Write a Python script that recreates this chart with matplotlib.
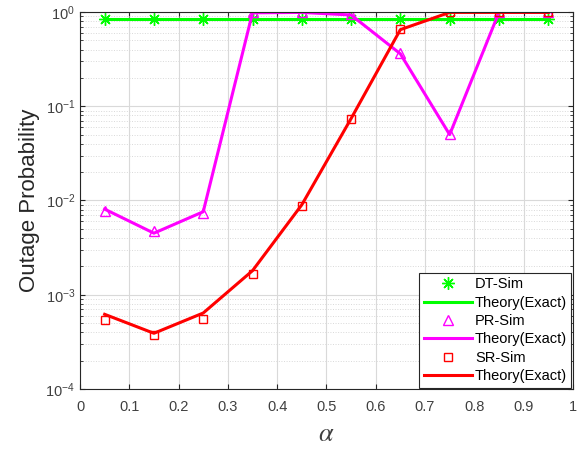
import numpy as np
import matplotlib
matplotlib.use("Agg")
from matplotlib import pyplot as plt
from matplotlib.ticker import LogLocator, NullFormatter

alpha = [0.05, 0.15, 0.25, 0.35, 0.45, 0.55, 0.65, 0.75, 0.85, 0.95]

dt_sim = [0.85, 0.85, 0.85, 0.85, 0.85, 0.85, 0.85, 0.85, 0.85, 0.85]
dt_theory = [0.85, 0.85, 0.85, 0.85, 0.85, 0.85, 0.85, 0.85, 0.85, 0.85]

pr_sim = [0.0078, 0.0047, 0.0074, 1.0, 1.0, 0.95, 0.37, 0.051, 1.0, 1.0]
pr_theory = [0.0081, 0.0045, 0.0076, 0.98, 0.99, 0.93, 0.36, 0.05, 0.99, 0.99]

sr_sim = [0.00054, 0.00037, 0.00055, 0.00166, 0.0088, 0.073, 0.66, 1.0, 1.0, 1.0]
sr_theory = [0.00062, 0.00039, 0.00064, 0.0018, 0.0090, 0.074, 0.65, 0.99, 0.99, 0.99]

xticks = [0, 0.1, 0.2, 0.3, 0.4, 0.5, 0.6, 0.7, 0.8, 0.9, 1]

plt.rcParams['font.family'] = ['Liberation Sans', 'DejaVu Sans']
plt.rcParams['mathtext.fontset'] = 'stix'

fig = plt.figure(figsize=(5.81, 4.53), dpi=100)
ax = fig.add_axes([0.1377, 0.1413, 0.8483, 0.8322])

ax.semilogy(alpha, dt_sim, linestyle='none', marker=(8, 2, 0), color='#00ff00',
            markersize=9, markeredgewidth=1.0, label='DT-Sim')
ax.semilogy(alpha, dt_theory, '-', color='#00ff00', linewidth=2.2,
            label='Theory(Exact)')
ax.semilogy(alpha, pr_sim, linestyle='none', marker='^', color='#ff00ff',
            markerfacecolor='none', markersize=7, label='PR-Sim')
ax.semilogy(alpha, pr_theory, '-', color='#ff00ff', linewidth=2.2,
            label='Theory(Exact)')
ax.semilogy(alpha, sr_sim, linestyle='none', marker='s', color='#ff0000',
            markerfacecolor='none', markersize=6, label='SR-Sim')
ax.semilogy(alpha, sr_theory, '-', color='#ff0000', linewidth=2.2,
            label='Theory(Exact)')

ax.set_xlim(0, 1)
ax.set_ylim(1e-4, 1)
ax.set_xticks(xticks)
ax.set_xticklabels([f"{t:g}" for t in xticks])
ax.yaxis.set_major_locator(LogLocator(base=10, numticks=10))
ax.yaxis.set_minor_locator(LogLocator(base=10, subs=np.arange(2, 10), numticks=10))
ax.yaxis.set_minor_formatter(NullFormatter())

ax.grid(True, which='major', color='#d9d9d9', linewidth=0.8, linestyle='-')
ax.grid(True, which='minor', axis='y', color='#d9d9d9', linewidth=0.7, linestyle=':')
ax.set_axisbelow(True)

ax.tick_params(which='both', direction='in', top=True, right=True,
               labelsize=10.5, colors='#262626', labelcolor='#404040')
ax.tick_params(axis='x', pad=8)
for s in ax.spines.values():
    s.set_color('#262626')
    s.set_linewidth(0.8)

ax.set_ylabel('Outage Probability', fontsize=16, color='#262626')
ax.set_xlabel(r'$\alpha$', fontsize=19, color='#404040', labelpad=6)

leg = ax.legend(loc='lower right', fontsize=10.5, frameon=True, fancybox=False,
                edgecolor='#262626', framealpha=1, handlelength=3.3,
                borderpad=0.3, labelspacing=0.3, handletextpad=0.2,
                borderaxespad=0.1)
leg.get_frame().set_linewidth(0.8)

fig.savefig('out.png', dpi=100)
